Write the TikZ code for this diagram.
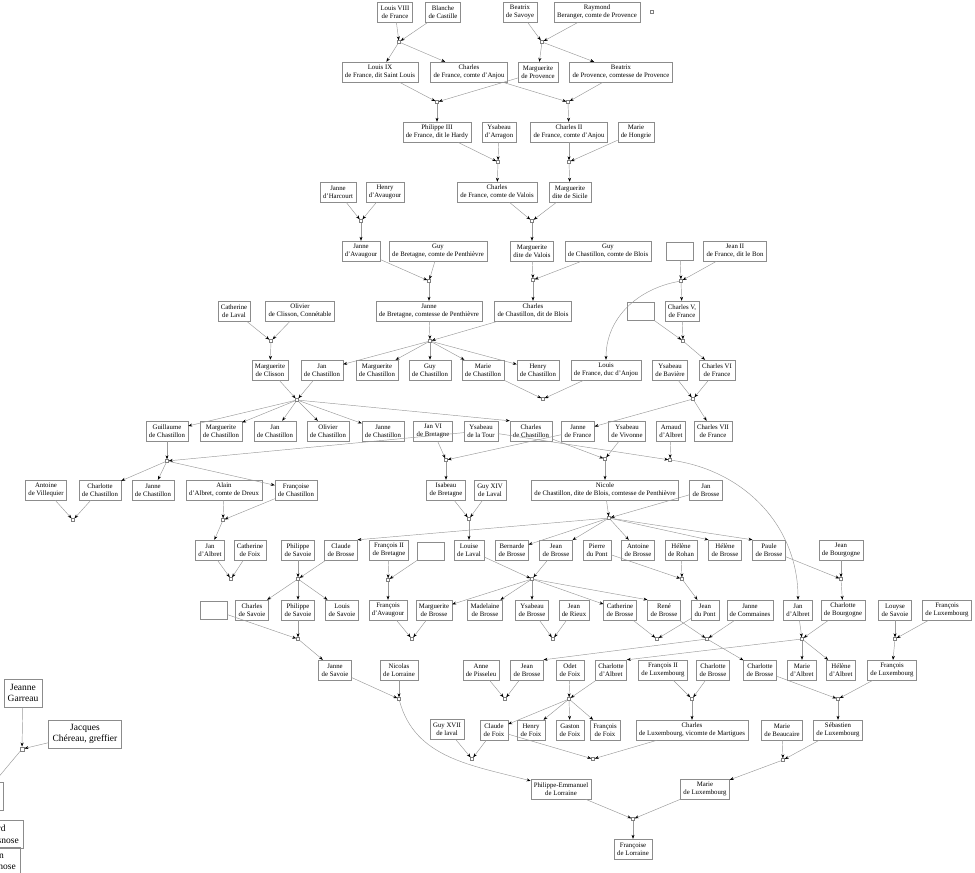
\documentclass[tikz,border=0pt]{standalone}
\usepackage{fontspec}
\setmainfont{Liberation Serif}
\usetikzlibrary{arrows.meta}

\begin{document}
\begin{tikzpicture}[x=1pt,y=-1pt,
    person/.style={draw=black!45,align=center,font=\fontsize{6.8}{8}\selectfont,
      inner xsep=3pt,inner ysep=1pt,minimum height=20pt,minimum width=28pt},
    bigperson/.style={person,font=\fontsize{9.5}{11.5}\selectfont,
      inner xsep=4pt,minimum height=28pt},
    blank/.style={draw=black!45,minimum width=27pt,minimum height=18pt,inner sep=0pt},
    union/.style={draw=black!50,fill=white,inner sep=0pt,minimum size=3pt},
    link/.style={draw=black!40,line width=0.45pt,
      -{Stealth[length=4pt,width=3pt,color=black]}}]
  \useasboundingbox (0,0) rectangle (975,873);
  \clip (0,0) rectangle (975,873);

  \path
  (395,12) node[person](louisviii) {Louis VIII\\de France}
  (443,12) node[person](blanche) {Blanche\\de Castille}
  (520,12) node[person](beatrixs) {Beatrix\\de Savoye}
  (597,12) node[person](raymond) {Raymond\\Beranger, comte de Provence}
  (652,12) node[union](m0) {}
  (399,42) node[union](m1) {}
  (542,42) node[union](m2) {}
  (380,72) node[person](louisix) {Louis IX\\de France, dit Saint Louis}
  (469,72) node[person](charlesanjou) {Charles\\de France, comte d'Anjou}
  (538,72) node[person](margprov) {Marguerite\\de Provence}
  (621,72) node[person](beatrixprov) {Beatrix\\de Provence, comtesse de Provence}
  (437,102) node[union](m3) {}
  (568,102) node[union](m4) {}
  (437,132) node[person](philippe3) {Philippe III\\de France, dit le Hardy}
  (499,132) node[person](ysabeauarr) {Ysabeau\\d'Arragon}
  (569,132) node[person](charles2) {Charles II\\de France, comte d'Anjou}
  (636,132) node[person](mariehong) {Marie\\de Hongrie}
  (498,162) node[union](m5) {}
  (569,162) node[union](m6) {}
  (338,192) node[person](jeanneharc) {Janne\\d'Harcourt}
  (385,192) node[person](henryav) {Henry\\d'Avaugour}
  (497,192) node[person](charlesvalois) {Charles\\de France, comte de Valois}
  (570,192) node[person](margsicile) {Marguerite\\dite de Sicile}
  (361,221) node[union](m7) {}
  (532,221) node[union](m8) {}
  (361,251) node[person](jeanneav) {Janne\\d'Avaugour}
  (438,251) node[person](guybret) {Guy\\de Bretagne, comte de Penthièvre}
  (532,251) node[person](margvalois) {Marguerite\\dite de Valois}
  (608,251) node[person](guyblois) {Guy\\de Chastillon, comte de Blois}
  (680,251) node[blank](empty1) {}
  (735,251) node[person](jean2) {Jean II\\de France, dit le Bon}
  (429,281) node[union](m9) {}
  (533,280) node[union](m10) {}
  (681,281) node[union](m11) {}
  (234,311) node[person](catherinelaval) {Catherine\\de Laval}
  (300,311) node[person](olivier) {Olivier\\de Clisson, Connétable}
  (429,311) node[person](jeannebret) {Janne\\de Bretagne, comtesse de Penthièvre}
  (533,311) node[person](charlesblois) {Charles\\de Chastillon, dit de Blois}
  (641,311) node[blank](empty2) {}
  (682,311) node[person](charles5) {Charles V,\\de France}
  (271,341) node[union](m12) {}
  (430,341) node[union](m13) {}
  (683,341) node[union](m14) {}
  (270,370) node[person](margclisson) {Marguerite\\de Clisson}
  (322,370) node[person](janchast) {Jan\\de Chastillon}
  (377,370) node[person](margchast) {Marguerite\\de Chastillon}
  (430,370) node[person](guychast) {Guy\\de Chastillon}
  (483,370) node[person](mariechast) {Marie\\de Chastillon}
  (538,370) node[person](henrychast) {Henry\\de Chastillon}
  (606,370) node[person](louisanjou) {Louis\\de France, duc d'Anjou}
  (670,370) node[person](ysabeaubav) {Ysabeau\\de Bavière}
  (717,370) node[person](charles6) {Charles VI\\de France}
  (297,400) node[union](m15) {}
  (543,399) node[union](m16) {}
  (693,399) node[union](m17) {}
  (167,431) node[person](guillaume) {Guillaume\\de Chastillon}
  (221,431) node[person](margchast2) {Marguerite\\de Chastillon}
  (275,431) node[person](janchast2) {Jan\\de Chastillon}
  (328,431) node[person](olivierchast) {Olivier\\de Chastillon}
  (383,431) node[person](jeannechast) {Janne\\de Chastillon}
  (433,431) node[person](jan6) {Jan VI\\de Bretagne}
  (481,431) node[person](ysabeautour) {Ysabeau\\de la Tour}
  (531,431) node[person](charleschast) {Charles\\de Chastillon}
  (578,431) node[person](jeannefr) {Janne\\de France}
  (627,431) node[person](ysabeauviv) {Ysabeau\\de Vivonne}
  (671,431) node[person](arnaud) {Arnaud\\d'Albret}
  (713,431) node[person](charles7) {Charles VII\\de France}
  (167,461) node[union](m18) {}
  (446,460) node[union](m19) {}
  (605,459) node[union](m20) {}
  (670,460) node[union](m21) {}
  (46,490) node[person](antoine) {Antoine\\de Villequier}
  (100,490) node[person](charlotte1) {Charlotte\\de Chastillon}
  (153,490) node[person](jeannechast2) {Janne\\de Chastillon}
  (224,490) node[person](alain) {Alain\\d'Albret, comte de Dreux}
  (296,490) node[person](francoise) {Françoise\\de Chastillon}
  (446,490) node[person](isabeau) {Isabeau\\de Bretagne}
  (490,490) node[person](guy14) {Guy XIV\\de Laval}
  (605,490) node[person](nicole) {Nicole\\de Chastillon, dite de Blois, comtesse de Penthièvre}
  (706,490) node[person](janbrosse) {Jan\\de Brosse}
  (73,520) node[union](m22) {}
  (223,520) node[union](m23) {}
  (469,519) node[union](m24) {}
  (609,518) node[union](m25) {}
  (210,550) node[person](jandalbret1) {Jan\\d'Albret}
  (250,550) node[person](catherinefoix) {Catherine\\de Foix}
  (298,550) node[person](philippesav1) {Philippe\\de Savoie}
  (341,550) node[person](claudebrosse) {Claude\\de Brosse}
  (389,550) node[person](francois2bret) {François II\\de Bretagne}
  (431,551) node[blank](empty3) {}
  (469,550) node[person](louiselaval) {Louise\\de Laval}
  (512,550) node[person](bernarde) {Bernarde\\de Brosse}
  (556,550) node[person](jeanbrosse1) {Jean\\de Brosse}
  (597,550) node[person](pierrepont) {Pierre\\du Pont}
  (638,550) node[person](antoinebrosse) {Antoine\\de Brosse}
  (681,550) node[person](helenerohan) {Hélène\\de Rohan}
  (725,550) node[person](helenebrosse) {Hélène\\de Brosse}
  (769,550) node[person](paule) {Paule\\de Brosse}
  (841,550) node[person](jeanbourg) {Jean\\de Bourgogne}
  (231,579) node[union](m26) {}
  (298,579) node[union](m27) {}
  (388,580) node[union](m28) {}
  (532,579) node[union](m29) {}
  (682,579) node[union](m30) {}
  (841,579) node[union](m31) {}
  (214,610) node[blank](empty4) {}
  (252,610) node[person](charlessav) {Charles\\de Savoie}
  (298,610) node[person](philippesav2) {Philippe\\de Savoie}
  (342,610) node[person](louissav) {Louis\\de Savoie}
  (388,610) node[person](francoisav) {François\\d'Avaugour}
  (434,610) node[person](margbrosse) {Marguerite\\de Brosse}
  (485,610) node[person](madelaine) {Madelaine\\de Brosse}
  (532,610) node[person](ysabeaubrosse) {Ysabeau\\de Brosse}
  (574,610) node[person](jeanrieux) {Jean\\de Rieux}
  (620,610) node[person](catherinebrosse) {Catherine\\de Brosse}
  (664,610) node[person](rene) {René\\de Brosse}
  (705,610) node[person](jeanpont) {Jean\\du Pont}
  (750,610) node[person](jeannecom) {Janne\\de Commaines}
  (798,610) node[person](jandalbret2) {Jan\\d'Albret}
  (843,610) node[person](charlottebourg) {Charlotte\\de Bourgogne}
  (895,610) node[person](louyse) {Louyse\\de Savoie}
  (947,610) node[person](francoislux1) {François\\de Luxembourg}
  (298,639) node[union](m32) {}
  (412,639) node[union](m33) {}
  (553,639) node[union](m34) {}
  (657,639) node[union](m35) {}
  (707,639) node[union](m36) {}
  (802,639) node[union](m37) {}
  (895,639) node[union](m38) {}
  (335,670) node[person](jeannesav) {Janne\\de Savoie}
  (399,670) node[person](nicolas) {Nicolas\\de Lorraine}
  (481,670) node[person](anne) {Anne\\de Pisseleu}
  (527,670) node[person](jeanbrosse2) {Jean\\de Brosse}
  (570,670) node[person](odet) {Odet\\de Foix}
  (611,670) node[person](charlottealbret) {Charlotte\\d'Albret}
  (663,670) node[person](francois2lux) {François II\\de Luxembourg}
  (713,670) node[person](charlottebrosse1) {Charlotte\\de Brosse}
  (760,670) node[person](charlottebrosse2) {Charlotte\\de Brosse}
  (802,670) node[person](mariealbret) {Marie\\d'Albret}
  (841,670) node[person](helenealbret) {Hélène\\d'Albret}
  (892,670) node[person](francoislux2) {François\\de Luxembourg}
  (399,699) node[union](m39) {}
  (505,699) node[union](m40) {}
  (569,699) node[union](m41) {}
  (692,699) node[union](m42) {}
  (838,699) node[union](m43) {}
  (447,729) node[person](guy17) {Guy XVII\\de laval}
  (494,730) node[person](claudefoix) {Claude\\de Foix}
  (531,730) node[person](henryfoix) {Henry\\de Foix}
  (570,730) node[person](gastonfoix) {Gaston\\de Foix}
  (605,730) node[person](francoisfoix) {François\\de Foix}
  (692,730) node[person](charleslux) {Charles\\de Luxembourg, vicomte de Martigues}
  (782,730) node[person](mariebeau) {Marie\\de Beaucaire}
  (838,730) node[person](sebastien) {Sébastien\\de Luxembourg}
  (472,759) node[union](m44) {}
  (593,759) node[union](m45) {}
  (783,760) node[union](m46) {}
  (561,789) node[person](philippeemm) {Philippe-Emmanuel\\de Lorraine}
  (705,789) node[person](marielux) {Marie\\de Luxembourg}
  (633,819) node[union](m47) {}
  (633,849) node[person](francoiselor) {Françoise\\de Lorraine}
  (23,693) node[bigperson](garreau) {Jeanne\\Garreau}
  (85,734) node[bigperson](chereau) {Jacques\\Chéreau, greffier}
  (22,749) node[union,minimum size=4.5pt](m48) {}
  (3,796) node[bigperson,anchor=east,minimum width=40pt](cut1) {}
  (23,834) node[bigperson,anchor=east](cut2) {Bernard\\de la Chesnose}
  (20,861) node[bigperson,anchor=east](cut3) {Germain\\de la Chesnose}
  ;

  \draw[link] (louisviii) -- (m1); \draw[link] (blanche) -- (m1);
  \draw[link] (m1) -- (louisix); \draw[link] (m1) -- (charlesanjou);
  \draw[link] (beatrixs) -- (m2); \draw[link] (raymond) -- (m2);
  \draw[link] (m2) -- (margprov); \draw[link] (m2) -- (beatrixprov);
  \draw[link] (louisix) -- (m3); \draw[link] (margprov) -- (m3);
  \draw[link] (m3) -- (philippe3);
  \draw[link] (charlesanjou) -- (m4); \draw[link] (beatrixprov) -- (m4);
  \draw[link] (m4) -- (charles2);
  \draw[link] (philippe3) -- (m5); \draw[link] (ysabeauarr) -- (m5);
  \draw[link] (m5) -- (charlesvalois);
  \draw[link] (charles2) -- (m6); \draw[link] (mariehong) -- (m6);
  \draw[link] (m6) -- (margsicile);
  \draw[link] (jeanneharc) -- (m7); \draw[link] (henryav) -- (m7);
  \draw[link] (m7) -- (jeanneav);
  \draw[link] (charlesvalois) -- (m8); \draw[link] (margsicile) -- (m8);
  \draw[link] (m8) -- (margvalois);
  \draw[link] (jeanneav) -- (m9); \draw[link] (guybret) -- (m9);
  \draw[link] (m9) -- (jeannebret);
  \draw[link] (margvalois) -- (m10); \draw[link] (guyblois) -- (m10);
  \draw[link] (m10) -- (charlesblois);
  \draw[link] (empty1) -- (m11); \draw[link] (jean2) -- (m11);
  \draw[link] (m11) -- (charles5);
  \draw[link] (m11) to[out=190,in=90] (louisanjou);
  \draw[link] (catherinelaval) -- (m12); \draw[link] (olivier) -- (m12);
  \draw[link] (m12) -- (margclisson);
  \draw[link] (jeannebret) -- (m13); \draw[link] (charlesblois) -- (m13);
  \draw[link] (m13) -- (janchast); \draw[link] (m13) -- (margchast);
  \draw[link] (m13) -- (guychast); \draw[link] (m13) -- (mariechast);
  \draw[link] (m13) -- (henrychast);
  \draw[link] (empty2) -- (m14); \draw[link] (charles5) -- (m14);
  \draw[link] (m14) -- (charles6);
  \draw[link] (margclisson) -- (m15); \draw[link] (janchast) -- (m15);
  \draw[link] (m15) -- (guillaume); \draw[link] (m15) -- (margchast2);
  \draw[link] (m15) -- (janchast2); \draw[link] (m15) -- (olivierchast);
  \draw[link] (m15) -- (jeannechast);
  \draw[link] (m15) -- (charleschast.north west);
  \draw[link] (mariechast) -- (m16); \draw[link] (louisanjou) -- (m16);
  \draw[link] (ysabeaubav) -- (m17); \draw[link] (charles6) -- (m17);
  \draw[link] (m17) -- (jeannefr); \draw[link] (m17) -- (charles7);
  \draw[link] (guillaume) -- (m18); \draw[link] (ysabeautour) -- (m18);
  \draw[link] (m18) -- (charlotte1); \draw[link] (m18) -- (jeannechast2);
  \draw[link] (m18) -- (francoise);
  \draw[link] (jan6) -- (m19); \draw[link] (jeannefr) -- (m19);
  \draw[link] (m19) -- (isabeau);
  \draw[link] (charleschast) -- (m20); \draw[link] (ysabeauviv) -- (m20);
  \draw[link] (m20) -- (nicole);
  \draw[link] (ysabeautour) -- (m21); \draw[link] (arnaud) -- (m21);
  \draw[link] (m21) to[out=-8,in=90] (jandalbret2);
  \draw[link] (antoine) -- (m22); \draw[link] (charlotte1) -- (m22);
  \draw[link] (alain) -- (m23); \draw[link] (francoise) -- (m23);
  \draw[link] (m23) -- (jandalbret1);
  \draw[link] (isabeau) -- (m24); \draw[link] (guy14) -- (m24);
  \draw[link] (m24) -- (louiselaval);
  \draw[link] (nicole) -- (m25); \draw[link] (janbrosse) -- (m25);
  \draw[link] (m25) -- (claudebrosse.north east); \draw[link] (m25) -- (bernarde);
  \draw[link] (m25) -- (jeanbrosse1); \draw[link] (m25) -- (antoinebrosse);
  \draw[link] (m25) -- (helenebrosse.north west);
  \draw[link] (m25) -- (paule.north west);
  \draw[link] (jandalbret1) -- (m26); \draw[link] (catherinefoix) -- (m26);
  \draw[link] (philippesav1) -- (m27); \draw[link] (claudebrosse) -- (m27);
  \draw[link] (m27) -- (charlessav); \draw[link] (m27) -- (philippesav2);
  \draw[link] (m27) -- (louissav);
  \draw[link] (francois2bret) -- (m28); \draw[link] (empty3) -- (m28);
  \draw[link] (m28) -- (francoisav);
  \draw[link] (louiselaval) -- (m29); \draw[link] (jeanbrosse1) -- (m29);
  \draw[link] (m29) -- (margbrosse); \draw[link] (m29) -- (madelaine);
  \draw[link] (m29) -- (ysabeaubrosse); \draw[link] (m29) -- (catherinebrosse);
  \draw[link] (m29) -- (rene.north west);
  \draw[link] (pierrepont) -- (m30); \draw[link] (helenerohan) -- (m30);
  \draw[link] (m30) -- (jeanpont);
  \draw[link] (paule) -- (m31); \draw[link] (jeanbourg) -- (m31);
  \draw[link] (m31) -- (charlottebourg);
  \draw[link] (empty4) -- (m32); \draw[link] (philippesav2) -- (m32);
  \draw[link] (m32) -- (jeannesav);
  \draw[link] (francoisav) -- (m33); \draw[link] (margbrosse) -- (m33);
  \draw[link] (ysabeaubrosse) -- (m34); \draw[link] (jeanrieux) -- (m34);
  \draw[link] (catherinebrosse) -- (m35); \draw[link] (jeanpont) -- (m35);
  \draw[link] (rene) -- (m36); \draw[link] (jeannecom) -- (m36);
  \draw[link] (m36) -- (jeanbrosse2.north east);
  \draw[link] (m36) -- (charlottebrosse2);
  \draw[link] (jandalbret2) -- (m37); \draw[link] (charlottebourg) -- (m37);
  \draw[link] (m37) -- (charlottealbret.north east);
  \draw[link] (m37) -- (mariealbret); \draw[link] (m37) -- (helenealbret);
  \draw[link] (louyse) -- (m38); \draw[link] (francoislux1) -- (m38);
  \draw[link] (m38) -- (francoislux2);
  \draw[link] (jeannesav) -- (m39); \draw[link] (nicolas) -- (m39);
  \draw[link] (m39) to[out=-75,in=165] (philippeemm);
  \draw[link] (anne) -- (m40); \draw[link] (jeanbrosse2) -- (m40);
  \draw[link] (odet) -- (m41); \draw[link] (charlottealbret) -- (m41);
  \draw[link] (m41) -- (claudefoix); \draw[link] (m41) -- (henryfoix);
  \draw[link] (m41) -- (gastonfoix); \draw[link] (m41) -- (francoisfoix);
  \draw[link] (francois2lux) -- (m42); \draw[link] (charlottebrosse1) -- (m42);
  \draw[link] (m42) -- (charleslux);
  \draw[link] (charlottebrosse2) -- (m43); \draw[link] (francoislux2) -- (m43);
  \draw[link] (m43) -- (sebastien);
  \draw[link] (guy17) -- (m44); \draw[link] (claudefoix) -- (m44);
  \draw[link] (claudefoix) -- (m45); \draw[link] (charleslux) -- (m45);
  \draw[link] (mariebeau) -- (m46); \draw[link] (sebastien) -- (m46);
  \draw[link] (m46) -- (marielux);
  \draw[link] (philippeemm) -- (m47); \draw[link] (marielux) -- (m47);
  \draw[link] (m47) -- (francoiselor);
  \draw[link] (garreau) -- (m48); \draw[link] (chereau) -- (m48);
  \draw[link] (m48) -- (cut1);
\end{tikzpicture}
\end{document}
